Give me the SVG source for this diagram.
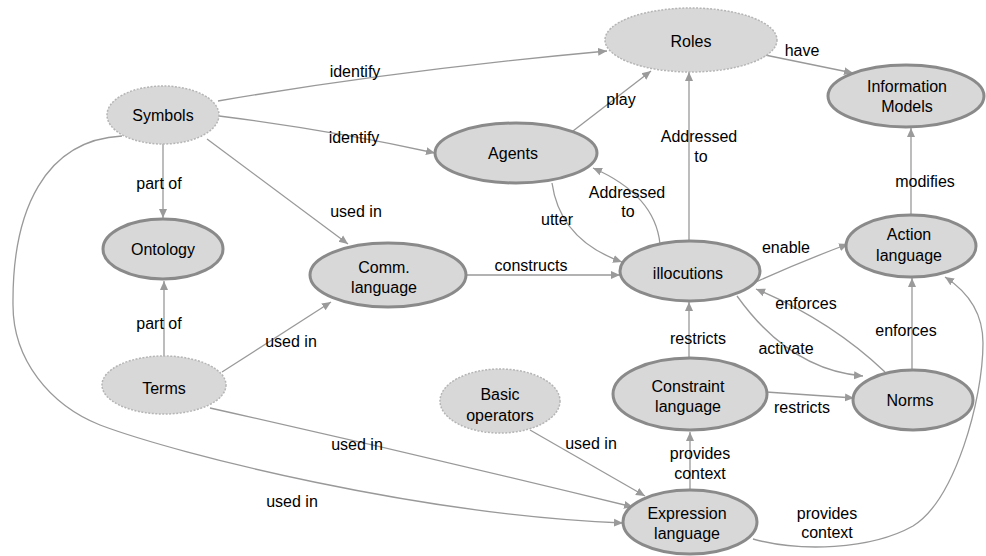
<svg xmlns="http://www.w3.org/2000/svg" width="986" height="556" viewBox="0 0 986 556">
<defs>
<style>
.n{fill:#d8d8d8}
.dk{stroke:#8a8a8a;stroke-width:3}
.lt{stroke:#b5b5b5;stroke-width:1.5;stroke-dasharray:2 1.5}
.t{font-family:"Liberation Sans",Arial,sans-serif;font-size:16px;fill:#000;text-anchor:middle}
.e{fill:none;stroke:#999;stroke-width:1.3;marker-end:url(#a)}
</style>
<marker id="a" markerWidth="10" markerHeight="10" refX="9" refY="5" orient="auto" markerUnits="userSpaceOnUse">
<path d="M0,1 L9,5 L0,9 Z" fill="#9a9a9a"/>
</marker>
</defs>
<rect width="986" height="556" fill="#fff"/>
<g id="connectors">
<path class="e" d="M218,101 Q400,70 607,51"/>
<path class="e" d="M219,116 Q330,130 435,153"/>
<path class="e" d="M163,144 L163,218"/>
<path class="e" d="M207,139 L348,244"/>
<path class="e" d="M164,356 L164,281"/>
<path class="e" d="M222,372 L331,302"/>
<path class="e" d="M210,408 Q420,455 633,507"/>
<path class="e" d="M122,136 C45,140 12,210 13,305 C13,360 50,405 100,425 C180,455 420,515 623,523"/>
<path class="e" d="M530,430 L645,496"/>
<path class="e" d="M573,131 L651,71"/>
<path class="e" d="M689,241 L689,72"/>
<path class="e" d="M660,244 Q655,195 593,168"/>
<path class="e" d="M552,183 Q560,240 622,262"/>
<path class="e" d="M466,275 L620,275"/>
<path class="e" d="M756,282 Q800,262 848,244"/>
<path class="e" d="M911,215 L911,128"/>
<path class="e" d="M765,55 L853,73"/>
<path class="e" d="M885,372 Q830,320 756,289"/>
<path class="e" d="M737,296 Q790,370 863,376"/>
<path class="e" d="M912,370 L912,278"/>
<path class="e" d="M689,358 L689,302"/>
<path class="e" d="M766,392 L854,398"/>
<path class="e" d="M690,490 L690,432"/>
<path class="e" d="M753,539 C800,552 870,550 913,526 C955,500 983,400 983,343 C983,310 965,290 945,277"/>
<g class="t">
<text x="355" y="77">identify</text>
<text x="354" y="143">identify</text>
<text x="159" y="189">part of</text>
<text x="356" y="217">used in</text>
<text x="159" y="329">part of</text>
<text x="291" y="347">used in</text>
<text x="357" y="450">used in</text>
<text x="292" y="507">used in</text>
<text x="591" y="449">used in</text>
<text x="621" y="105">play</text>
<text x="699" y="142">Addressed</text>
<text x="701" y="162">to</text>
<text x="627" y="198">Addressed</text>
<text x="628" y="217">to</text>
<text x="557" y="225">utter</text>
<text x="531" y="271">constructs</text>
<text x="786" y="253">enable</text>
<text x="925" y="187">modifies</text>
<text x="802" y="56">have</text>
<text x="806" y="309">enforces</text>
<text x="786" y="354">activate</text>
<text x="906" y="336">enforces</text>
<text x="698" y="344">restricts</text>
<text x="802" y="413">restricts</text>
<text x="700" y="459">provides</text>
<text x="700" y="479">context</text>
<text x="827" y="519">provides</text>
<text x="827" y="538">context</text>
</g>
</g>
<g id="symbols"><ellipse class="n lt" cx="163" cy="115" rx="56" ry="29"/><text class="t" x="163" y="121">Symbols</text></g>
<g id="ontology"><ellipse class="n dk" cx="163" cy="249" rx="60" ry="30"/><text class="t" x="163" y="255">Ontology</text></g>
<g id="terms"><ellipse class="n lt" cx="164" cy="385" rx="62" ry="29"/><text class="t" x="164" y="394">Terms</text></g>
<g id="comm"><ellipse class="n dk" cx="388" cy="275" rx="78" ry="32"/><text class="t" x="384" y="273">Comm.</text><text class="t" x="384" y="293">language</text></g>
<g id="roles"><ellipse class="n lt" cx="691" cy="40" rx="86" ry="32"/><text class="t" x="691" y="47">Roles</text></g>
<g id="agents"><ellipse class="n dk" cx="516" cy="153" rx="81" ry="30"/><text class="t" x="513" y="159">Agents</text></g>
<g id="info"><ellipse class="n dk" cx="906" cy="96" rx="78" ry="31"/><text class="t" x="907" y="92">Information</text><text class="t" x="907" y="112">Models</text></g>
<g id="illocutions"><ellipse class="n dk" cx="690" cy="271" rx="70" ry="30"/><text class="t" x="688" y="279">illocutions</text></g>
<g id="action"><ellipse class="n dk" cx="911" cy="246" rx="65" ry="31"/><text class="t" x="909" y="240">Action</text><text class="t" x="909" y="261">language</text></g>
<g id="basic"><ellipse class="n lt" cx="500" cy="401" rx="60" ry="32"/><text class="t" x="500" y="400">Basic</text><text class="t" x="500" y="421">operators</text></g>
<g id="constraint"><ellipse class="n dk" cx="690" cy="394" rx="77" ry="36"/><text class="t" x="688" y="392">Constraint</text><text class="t" x="688" y="412">language</text></g>
<g id="norms"><ellipse class="n dk" cx="913" cy="400" rx="60" ry="30"/><text class="t" x="910" y="406">Norms</text></g>
<g id="expression"><ellipse class="n dk" cx="690" cy="522" rx="67" ry="32"/><text class="t" x="687" y="519">Expression</text><text class="t" x="687" y="539">language</text></g>
</svg>
